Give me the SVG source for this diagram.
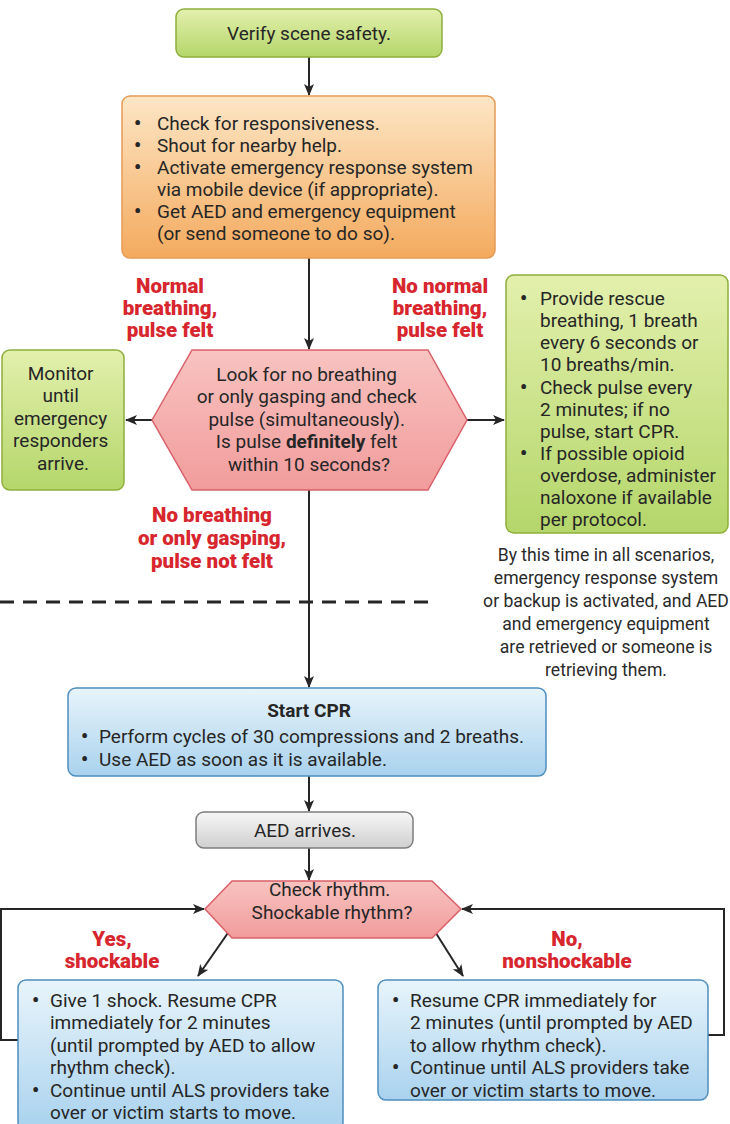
<svg xmlns="http://www.w3.org/2000/svg" width="730" height="1124" viewBox="0 0 730 1124">
  <style>
    .t { font-family: Roboto, "Liberation Sans", Arial, sans-serif; font-size: 19px; fill: #262626; }
    .c { text-anchor: middle; }
    .b { font-weight: bold; }
    .dot { font-size: 20px; font-weight: bold; }
    .red { font-family: Roboto, "Liberation Sans", Arial, sans-serif; font-size: 20.5px; font-weight: 900; fill: #d7262e; text-anchor: middle; }
    .note { font-family: Roboto, "Liberation Sans", Arial, sans-serif; font-size: 17.6px; fill: #2a2a2a; text-anchor: middle; }
    .green { fill: url(#gGreen); stroke: #8fae3c; stroke-width: 1.5; }
    .orange { fill: url(#gOrange); stroke: #e59a55; stroke-width: 1.5; }
    .pink { fill: url(#gPink); stroke: #d9606a; stroke-width: 1.5; }
    .blue { fill: url(#gBlue); stroke: #4d8fbf; stroke-width: 1.5; }
    .grey { fill: url(#gGrey); stroke: #7d7d7d; stroke-width: 1.5; }
    .conn { fill: none; stroke: #262626; stroke-width: 2; }
  </style>
  <defs>
    <linearGradient id="gGreen" x1="0" y1="0" x2="0" y2="1">
      <stop offset="0" stop-color="#e3f0ad"/>
      <stop offset="1" stop-color="#b4d66a"/>
    </linearGradient>
    <linearGradient id="gOrange" x1="0" y1="0" x2="0" y2="1">
      <stop offset="0" stop-color="#fde6c6"/>
      <stop offset="1" stop-color="#f4aa5e"/>
    </linearGradient>
    <linearGradient id="gPink" x1="0" y1="0" x2="0" y2="1">
      <stop offset="0" stop-color="#f8c3c0"/>
      <stop offset="1" stop-color="#f19c9c"/>
    </linearGradient>
    <linearGradient id="gBlue" x1="0" y1="0" x2="0" y2="1">
      <stop offset="0" stop-color="#e8f4fb"/>
      <stop offset="1" stop-color="#a9d2ee"/>
    </linearGradient>
    <linearGradient id="gGrey" x1="0" y1="0" x2="0" y2="1">
      <stop offset="0" stop-color="#f7f7f7"/>
      <stop offset="1" stop-color="#cfcfcf"/>
    </linearGradient>
    <marker id="arr" viewBox="0 0 12 10" refX="11" refY="5" markerWidth="12" markerHeight="10" markerUnits="userSpaceOnUse" orient="auto">
      <path d="M0,0 L12,5 L0,10 L3,5 Z" fill="#262626"/>
    </marker>
  </defs>

  <!-- connectors -->
  <g id="connectors">
    <line class="conn" x1="309" y1="57" x2="309" y2="95" marker-end="url(#arr)"/>
    <line class="conn" x1="309" y1="258" x2="309" y2="349" marker-end="url(#arr)"/>
    <line class="conn" x1="152" y1="420" x2="126" y2="420" marker-end="url(#arr)"/>
    <line class="conn" x1="467" y1="420" x2="504" y2="420" marker-end="url(#arr)"/>
    <line class="conn" x1="309" y1="490" x2="309" y2="687" marker-end="url(#arr)"/>
    <line class="conn" x1="309" y1="776" x2="309" y2="811" marker-end="url(#arr)"/>
    <line class="conn" x1="309" y1="848" x2="309" y2="880" marker-end="url(#arr)"/>
    <line class="conn" x1="230" y1="930" x2="198" y2="976" marker-end="url(#arr)"/>
    <line class="conn" x1="434" y1="930" x2="463" y2="976" marker-end="url(#arr)"/>
    <path class="conn" d="M18,1040 H1 V909 H204" marker-end="url(#arr)"/>
    <path class="conn" d="M708,1035 H724 V909 H462" marker-end="url(#arr)"/>
    <!-- dashed divider -->
    <line x1="0" y1="602" x2="436" y2="602" stroke="#262626" stroke-width="3" stroke-dasharray="14 9"/>
  </g>

  <!-- decision labels -->
  <g id="labels">
    <text class="red"><tspan x="170" y="293">Normal</tspan><tspan x="170" y="315">breathing,</tspan><tspan x="170" y="337">pulse felt</tspan></text>
    <text class="red"><tspan x="440" y="293">No normal</tspan><tspan x="440" y="315">breathing,</tspan><tspan x="440" y="337">pulse felt</tspan></text>
    <text class="red"><tspan x="212" y="522">No breathing</tspan><tspan x="212" y="545">or only gasping,</tspan><tspan x="212" y="568">pulse not felt</tspan></text>
    <text class="red"><tspan x="112" y="946">Yes,</tspan><tspan x="112" y="968">shockable</tspan></text>
    <text class="red"><tspan x="567" y="946">No,</tspan><tspan x="567" y="968">nonshockable</tspan></text>
  </g>

  <g id="note">
    <text class="note"><tspan x="606" y="561">By this time in all scenarios,</tspan><tspan x="606" y="584">emergency response system</tspan><tspan x="606" y="607">or backup is activated, and AED</tspan><tspan x="606" y="630">and emergency equipment</tspan><tspan x="606" y="653">are retrieved or someone is</tspan><tspan x="606" y="676">retrieving them.</tspan></text>
  </g>

  <g id="verify">
    <rect class="green" x="176" y="9" width="266" height="48" rx="8"/>
    <text class="t c" x="309" y="40">Verify scene safety.</text>
  </g>

  <g id="initial-steps">
    <rect class="orange" x="122" y="96" width="373" height="162" rx="8"/>
    <text class="t">
      <tspan class="dot" x="134" y="130">•</tspan><tspan x="157" y="130">Check for responsiveness.</tspan>
      <tspan class="dot" x="134" y="152">•</tspan><tspan x="157" y="152">Shout for nearby help.</tspan>
      <tspan class="dot" x="134" y="174">•</tspan><tspan x="157" y="174">Activate emergency response system</tspan>
      <tspan x="157" y="196">via mobile device (if appropriate).</tspan>
      <tspan class="dot" x="134" y="218">•</tspan><tspan x="157" y="218">Get AED and emergency equipment</tspan>
      <tspan x="157" y="240">(or send someone to do so).</tspan>
    </text>
  </g>

  <g id="check-breathing">
    <polygon class="pink" points="152,420 192,350 428,350 467,420 428,490 192,490"/>
    <text class="t c">
      <tspan x="309" y="381">Look for no breathing</tspan>
      <tspan x="309" y="403">or only gasping and check</tspan>
      <tspan x="309" y="426">pulse (simultaneously).</tspan>
      <tspan x="309" y="448">Is pulse <tspan class="b">definitely</tspan> felt</tspan>
      <tspan x="309" y="471">within 10 seconds?</tspan>
    </text>
  </g>

  <g id="monitor">
    <rect class="green" x="2" y="350" width="122" height="140" rx="8"/>
    <text class="t c">
      <tspan x="63" y="380">Monitor</tspan>
      <tspan x="63" y="402">until</tspan>
      <tspan x="63" y="425">emergency</tspan>
      <tspan x="63" y="447">responders</tspan>
      <tspan x="63" y="470">arrive.</tspan>
    </text>
  </g>

  <g id="rescue-breathing">
    <rect class="green" x="506" y="275" width="222" height="258" rx="8"/>
    <text class="t">
      <tspan class="dot" x="520" y="305">•</tspan><tspan x="540" y="305">Provide rescue</tspan>
      <tspan x="540" y="327">breathing, 1 breath</tspan>
      <tspan x="540" y="349">every 6 seconds or</tspan>
      <tspan x="540" y="371">10 breaths/min.</tspan>
      <tspan class="dot" x="520" y="394">•</tspan><tspan x="540" y="394">Check pulse every</tspan>
      <tspan x="540" y="416">2 minutes; if no</tspan>
      <tspan x="540" y="438">pulse, start CPR.</tspan>
      <tspan class="dot" x="520" y="460">•</tspan><tspan x="540" y="460">If possible opioid</tspan>
      <tspan x="540" y="482">overdose, administer</tspan>
      <tspan x="540" y="504">naloxone if available</tspan>
      <tspan x="540" y="526">per protocol.</tspan>
    </text>
  </g>

  <g id="start-cpr">
    <rect class="blue" x="68" y="688" width="478" height="88" rx="8"/>
    <text class="t c b" x="309" y="717">Start CPR</text>
    <text class="t">
      <tspan class="dot" x="81" y="743">•</tspan><tspan x="99" y="743">Perform cycles of 30 compressions and 2 breaths.</tspan>
      <tspan class="dot" x="81" y="766">•</tspan><tspan x="99" y="766">Use AED as soon as it is available.</tspan>
    </text>
  </g>

  <g id="aed-arrives">
    <rect class="grey" x="196" y="812" width="217" height="36" rx="8"/>
    <text class="t c" x="305" y="837">AED arrives.</text>
  </g>

  <g id="check-rhythm">
    <polygon class="pink" points="205,909 232,881 432,881 461,909 432,938 232,938"/>
    <text class="t c">
      <tspan x="332" y="896">Check rhythm.</tspan>
      <tspan x="332" y="919">Shockable rhythm?</tspan>
    </text>
  </g>

  <g id="shockable">
    <rect class="blue" x="18" y="980" width="325" height="150" rx="8"/>
    <text class="t">
      <tspan class="dot" x="32" y="1007">•</tspan><tspan x="50" y="1007">Give 1 shock. Resume CPR</tspan>
      <tspan x="50" y="1029">immediately for 2 minutes</tspan>
      <tspan x="50" y="1052">(until prompted by AED to allow</tspan>
      <tspan x="50" y="1074">rhythm check).</tspan>
      <tspan class="dot" x="32" y="1097">•</tspan><tspan x="50" y="1097">Continue until ALS providers take</tspan>
      <tspan x="50" y="1119">over or victim starts to move.</tspan>
    </text>
  </g>

  <g id="nonshockable">
    <rect class="blue" x="378" y="980" width="330" height="120" rx="8"/>
    <text class="t">
      <tspan class="dot" x="392" y="1007">•</tspan><tspan x="410" y="1007">Resume CPR immediately for</tspan>
      <tspan x="410" y="1029">2 minutes (until prompted by AED</tspan>
      <tspan x="410" y="1052">to allow rhythm check).</tspan>
      <tspan class="dot" x="392" y="1074">•</tspan><tspan x="410" y="1074">Continue until ALS providers take</tspan>
      <tspan x="410" y="1097">over or victim starts to move.</tspan>
    </text>
  </g>
</svg>
